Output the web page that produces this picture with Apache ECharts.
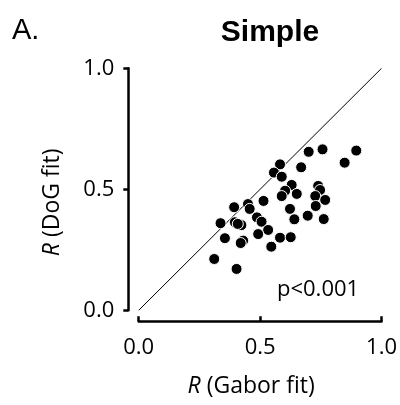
<!DOCTYPE html>
<html>
<head>
<meta charset="utf-8">
<script src="https://cdn.jsdelivr.net/npm/echarts@6/dist/echarts.min.js"></script>
<style>
html,body{margin:0;padding:0;background:#fff;}
#chart{width:400px;height:405px;}
</style>
</head>
<body>
<div id="chart"></div>
<script>
// Data
var gaborR = [0.896,0.848,0.757,0.700,0.669,0.582,0.557,0.589,0.630,0.603,0.589,0.651,0.739,0.747,0.727,0.768,0.729,0.623,0.641,0.696,0.762,0.514,0.450,0.393,0.457,0.337,0.396,0.423,0.408,0.487,0.506,0.533,0.492,0.546,0.355,0.430,0.420,0.311,0.403,0.582,0.626];
var dogR   = [0.660,0.610,0.665,0.655,0.591,0.603,0.569,0.552,0.518,0.494,0.472,0.481,0.514,0.497,0.472,0.456,0.431,0.419,0.376,0.391,0.377,0.452,0.439,0.426,0.419,0.360,0.364,0.352,0.357,0.384,0.366,0.332,0.315,0.263,0.298,0.288,0.278,0.212,0.171,0.300,0.302];
var identityX = [0, 1];
var identityY = [0, 1];
var titleText = 'Simple';
var panelLabel = 'A.';
var pText = 'p<0.001';

var points = gaborR.map(function(g, i){ return [g, dogR[i]]; });
var diag = identityX.map(function(x, i){ return [x, identityY[i]]; });

var chart = echarts.init(document.getElementById('chart'), null, {renderer:'canvas'});
var tickFont = 'Open Sans';
chart.setOption({
  animation: false,
  backgroundColor: '#fff',
  title: {
    text: titleText,
    left: 265, top: 13, textAlign: 'center',
    textStyle: {fontFamily: 'Liberation Sans', fontWeight: 'bold', fontSize: 30, color: '#000'}
  },
  graphic: [
    {type:'text', left: 12, top: 16, style:{text: panelLabel, font: '29px "Liberation Sans"', fill:'#000'}},
    {type:'text', left: 277, top: 279, style:{text: pText, font: '22px "Open Sans"', fill:'#000'}}
  ],
  grid: {left: 138.7, right: 18, top: 68.3, bottom: 94.7},
  xAxis: {
    type: 'value', min: 0, max: 1, interval: 0.5, offset: 11,
    name: '{i|R} (Gabor fit)', nameLocation: 'middle', nameGap: 54,
    nameTextStyle: {fontFamily: tickFont, fontSize: 23, color:'#000', padding:[0,18,0,0],
      rich:{i:{fontStyle:'italic', fontFamily: tickFont, fontSize: 23, color:'#000'}}},
    axisLine: {show: true, onZero: false, lineStyle: {color:'#000', width: 2.5}},
    axisTick: {show: true, inside: true, length: 5, lineStyle:{color:'#000', width: 2.5}},
    axisLabel: {fontFamily: tickFont, fontSize: 22, color:'#000', margin: 15,
      formatter: function(v){ return v.toFixed(1); }},
    splitLine: {show: false}
  },
  yAxis: {
    type: 'value', min: 0, max: 1, interval: 0.5, offset: 10.4,
    name: '{i|R} (DoG fit)', nameLocation: 'middle', nameGap: 64, nameRotate: 90,
    nameTextStyle: {fontFamily: tickFont, fontSize: 23, color:'#000', padding:[0,26,0,0],
      rich:{i:{fontStyle:'italic', fontFamily: tickFont, fontSize: 23, color:'#000'}}},
    axisLine: {show: true, onZero: false, lineStyle: {color:'#000', width: 2.5}},
    axisTick: {show: true, inside: false, length: 5, lineStyle:{color:'#000', width: 2.5}},
    axisLabel: {fontFamily: tickFont, fontSize: 22, color:'#000', margin: 14,
      formatter: function(v){ return v.toFixed(1); }},
    splitLine: {show: false}
  },
  series: [
    {type:'line', data: diag, symbol:'none', silent:true,
     lineStyle:{color:'#000', width:1}, z:1},
    {type:'scatter', data: points, symbol:'circle', symbolSize: 11,
     itemStyle:{color:'#000', borderColor:'#fff', borderWidth:1, opacity:1}, z:2}
  ]
});
</script>
</body>
</html>
